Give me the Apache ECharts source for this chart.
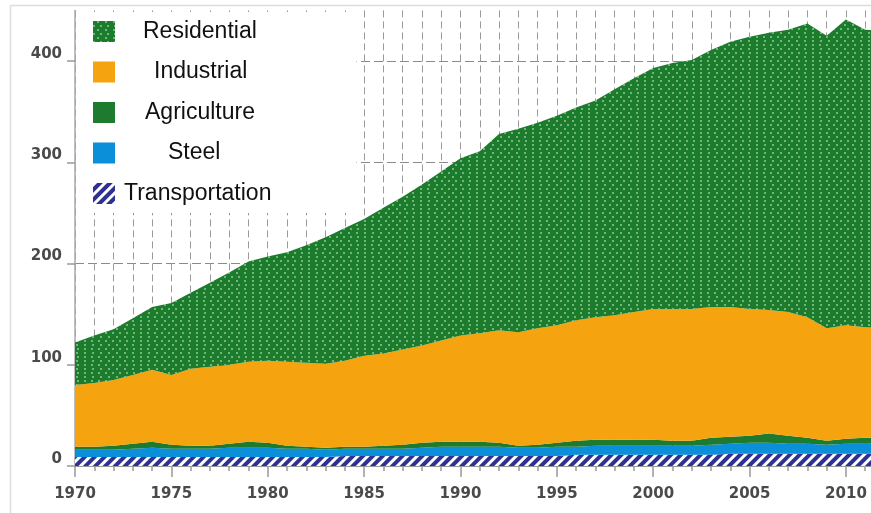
<!DOCTYPE html>
<html><head><meta charset="utf-8">
<script src="https://cdn.jsdelivr.net/npm/echarts@6/dist/echarts.min.js"></script>
<style>html,body{margin:0;padding:0;background:#fff}#c{width:871px;height:513px}</style>
</head><body><div id="c"></div>
<script>
const years = ['1970','1971','1972','1973','1974','1975','1976','1977','1978','1979','1980','1981','1982','1983','1984','1985','1986','1987','1988','1989','1990','1991','1992','1993','1994','1995','1996','1997','1998','1999','2000','2001','2002','2003','2004','2005','2006','2007','2008','2009','2010','2011','2012'];
const transportation = [9,9,9,9,9,9,9,9,9,9,9,9,9,9,10,10,10,10,10,10,10,10,10,10,10,10,11,11,11,11,11,11,11,11,12,12,12,12,12,12,12,12,12];
const steel = [7,7,7,8,9,8,8,8,9,9,9,8,8,7,7,7,7,7,8,9,9,9,9,8,8,9,8,9,9,9,9,9,9,10,10,11,11,10,10,9,10,10,10];
const agriculture = [3,3,4,5,6,4,3,3,4,6,5,3,2,2,2,2,3,4,5,5,5,5,4,2,3,4,6,6,6,6,6,5,5,7,7,7,9,8,6,4,5,6,6];
const industrial = [61,63,65,68,71,69,76,78,78,79,81,83,83,83,85,90,91,94,96,100,105,107,111,112,115,116,119,121,123,126,129,130,130,129,128,125,122,122,119,111,112,109,108];
const residential = [42,47,50,56,62,71,75,83,91,99,103,108,116,125,131,135,144,151,159,167,175,180,194,201,203,207,210,214,223,231,238,243,246,254,262,269,274,279,290,289,302,294,294];
const seriesNames = ['Transportation','Steel','Agriculture','Industrial','Residential'];
const legendOrder = ['Residential','Industrial','Agriculture','Steel','Transportation'];
const yLabelValues = [0,100,200,300,400];

const valuesByName = {Transportation: transportation, Steel: steel, Agriculture: agriculture, Industrial: industrial, Residential: residential};
const colors = {Transportation:'#2e3192', Steel:'#0b8fd9', Agriculture:'#1d7a2f', Industrial:'#f5a30f', Residential:'#1b7d2c'};
const decals = {
  Transportation: {symbol:'rect', color:'#ffffff', dashArrayX:[1,0], dashArrayY:[3,4], rotation:-Math.PI/4, symbolSize:1},
  Residential: {symbol:'circle', color:'rgba(255,255,255,0.55)', dashArrayX:[[2,5],[0,3.5,2,1.5]], dashArrayY:[2,1.5], symbolSize:1}
};
const textPad = {Residential:23, Industrial:34, Agriculture:25, Steel:48, Transportation:4};
const everyFifth = (i) => i % 5 === 0;

const chart = echarts.init(document.getElementById('c'));
const series = seriesNames.map(n => {
  const itemStyle = {color: colors[n]};
  if (decals[n]) itemStyle.decal = decals[n];
  return {
    name: n, type:'line', stack:'total', xAxisIndex:0, yAxisIndex:0,
    showSymbol:false, smooth:false,
    lineStyle:{width:0}, itemStyle: itemStyle,
    areaStyle:{color:colors[n], opacity:1},
    data: valuesByName[n]
  };
});

chart.setOption({
  animation:false,
  backgroundColor:'#fff',
  grid:{left:75, width:809.5, top:10.4, bottom:47, containLabel:false, outerBoundsMode:'none'},
  legend:{
    orient:'vertical', left:76, top:12,
    padding:[8,85,8,17],
    backgroundColor:'#fff',
    itemWidth:22, itemHeight:21, itemGap:17.5,
    icon:'rect',
    textStyle:{fontFamily:'Liberation Sans', fontSize:23, color:'#111', lineHeight:21},
    data: legendOrder.map(n => ({name:n, textStyle:{padding:[0,0,0,textPad[n]]}})),
    selectedMode:false
  },
  xAxis:[
    {type:'category', data:years, boundaryGap:false,
     axisLine:{show:true, lineStyle:{color:'#999', width:1}},
     axisTick:{show:true, interval:0, length:5, lineStyle:{color:'#999', width:1.5}},
     axisLabel:{show:false},
     splitLine:{show:true, interval:0, lineStyle:{color:'#9a9a9a', width:1, type:[7,4]}}},
    {type:'category', data:years, boundaryGap:false, position:'bottom',
     axisLine:{show:false},
     axisTick:{show:true, interval:everyFifth, length:11, lineStyle:{color:'#999', width:1.5}},
     axisLabel:{show:true, interval:everyFifth, margin:21, color:'#4a4a4a', fontFamily:'DejaVu Sans', fontWeight:'bold', fontSize:15},
     splitLine:{show:false}}
  ],
  yAxis:{type:'value', min:0, max:450, interval:100,
    axisLine:{show:true, lineStyle:{color:'#aaa', width:1.5}},
    axisTick:{show:true, length:8, lineStyle:{color:'#999', width:1.5}, customValues:yLabelValues},
    axisLabel:{show:true, margin:13, color:'#4a4a4a', fontFamily:'DejaVu Sans', fontWeight:'bold', fontSize:15, verticalAlign:'bottom', lineHeight:14,
      customValues:yLabelValues, formatter: v => (v % 100 === 0 ? String(v) : '')},
    splitLine:{show:true, lineStyle:{color:'#8a8a8a', width:1, type:[9,4]}}
  },
  graphic:[
    {type:'line', shape:{x1:10.5, y1:5.5, x2:10.5, y2:513}, style:{stroke:'#dcdcdc', lineWidth:1.5}, silent:true},
    {type:'line', shape:{x1:10.5, y1:5.5, x2:871, y2:5.5}, style:{stroke:'#dcdcdc', lineWidth:1.5}, silent:true}
  ],
  series: series
});
</script></body></html>
